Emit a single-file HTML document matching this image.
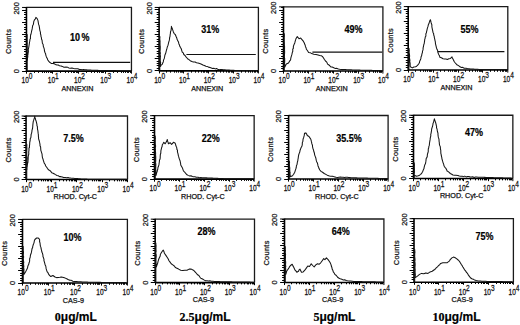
<!DOCTYPE html>
<html><head><meta charset="utf-8"><style>
html,body{margin:0;padding:0;background:#fff;}
body{width:520px;height:325px;overflow:hidden;}
svg{display:block;}
.fr{fill:none;stroke:#1a1a1a;stroke-width:1.3;}
.xa{fill:none;stroke:#000;stroke-width:1.6;}
.ya{fill:none;stroke:#000;stroke-width:1.6;}
.tk{fill:none;stroke:#000;stroke-width:1;}
.gt{fill:none;stroke:#111;stroke-width:1.2;}
.cv{fill:none;stroke:#141414;stroke-width:1.05;stroke-linejoin:round;}
text{font-family:"Liberation Sans",sans-serif;fill:#111;stroke:#111;stroke-width:0.25px;}
.yl{font-size:7.4px;}
.xl{font-size:8.2px;}
.xt{font-size:7.2px;}
.pc{font-size:10px;font-weight:bold;fill:#000;stroke:#000;stroke-width:0.2px;}
.bl{font-size:12px;font-weight:bold;fill:#000;stroke:#000;stroke-width:0.2px;}
.bn{font-family:"Liberation Serif",serif;}
</style></head><body>
<svg width="520" height="325" viewBox="0 0 520 325">
<path d="M26.45 7.45H131.45V71.1" class="fr"/>
<path d="M26.45 71.1H131.45" class="xa"/>
<path d="M26.45 6.95V71.6" class="ya"/>
<path d="M22.05 71.5H26.45M24.05 68.5H26.45M24.05 66.5H26.45M24.05 63.5H26.45M24.05 61.5H26.45M22.05 58.5H26.45M24.05 56.5H26.45M24.05 54.5H26.45M24.05 51.5H26.45M24.05 49.5H26.45M22.05 46.5H26.45M24.05 44.5H26.45M24.05 41.5H26.45M24.05 39.5H26.45M24.05 36.5H26.45M22.05 34.5H26.45M24.05 32.5H26.45M24.05 29.5H26.45M24.05 27.5H26.45M24.05 24.5H26.45M22.05 22.5H26.45M24.05 19.5H26.45M24.05 17.5H26.45M24.05 14.5H26.45M24.05 12.5H26.45M22.05 10.5H26.45M24.05 7.5H26.45M22.05 7.45H26.45" class="tk"/>
<path d="M26.5 71.1V73.7M34.5 71.1V72.9M38.5 71.1V72.9M42.5 71.1V72.9M44.5 71.1V72.9M46.5 71.1V72.9M48.5 71.1V72.9M50.5 71.1V72.9M51.5 71.1V72.9M52.5 71.1V73.7M60.5 71.1V72.9M65.5 71.1V72.9M68.5 71.1V72.9M71.5 71.1V72.9M73.5 71.1V72.9M74.5 71.1V72.9M76.5 71.1V72.9M77.5 71.1V72.9M78.5 71.1V73.7M86.5 71.1V72.9M91.5 71.1V72.9M94.5 71.1V72.9M97.5 71.1V72.9M99.5 71.1V72.9M101.5 71.1V72.9M102.5 71.1V72.9M103.5 71.1V72.9M105.5 71.1V73.7M113.5 71.1V72.9M117.5 71.1V72.9M121.5 71.1V72.9M123.5 71.1V72.9M125.5 71.1V72.9M127.5 71.1V72.9M128.5 71.1V72.9M130.5 71.1V72.9M131.45 71.1V73.7" class="tk"/>
<text class="yl" transform="translate(19.05 8.35) rotate(-90)" text-anchor="middle">200</text>
<text class="yl" transform="translate(19.05 71.1) rotate(-90)" text-anchor="middle">0</text>
<text class="yl" transform="translate(10.95 41.48) rotate(-90)" text-anchor="middle" style="letter-spacing:0.3px">Counts</text>
<text class="xl" transform="translate(21.55 83.4) scale(0.8 1)">10</text><text class="xl" transform="translate(28.85 79.4) scale(0.8 1)">0</text>
<text class="xl" transform="translate(47.8 83.4) scale(0.8 1)">10</text><text class="xl" transform="translate(55.1 79.4) scale(0.8 1)">1</text>
<text class="xl" transform="translate(74.05 83.4) scale(0.8 1)">10</text><text class="xl" transform="translate(81.35 79.4) scale(0.8 1)">2</text>
<text class="xl" transform="translate(100.3 83.4) scale(0.8 1)">10</text><text class="xl" transform="translate(107.6 79.4) scale(0.8 1)">3</text>
<text class="xl" transform="translate(126.55 83.4) scale(0.8 1)">10</text><text class="xl" transform="translate(133.85 79.4) scale(0.8 1)">4</text>
<text class="xt" x="77.45" y="90.8" text-anchor="middle">ANNEXIN</text>
<path d="M53 62.3H130.2" class="gt"/>
<path d="M27.15 71.1 L27.15 34.4 L27.17 35.7 L27.13 37.46 L27.18 38.43 L27.15 39.48 L27.27 41.22 L27.05 42.07 L27.27 43.41 L26.92 45.29 L27.34 46.89 L27.18 47.94 L26.9 48.83 L26.92 50.51 L27 51.54 L27.1 52.74 L27.27 54.45 L27.17 55.86 L27.18 57.18 L27.01 58.48 L27.33 60.31 L27.1 61.2 L27.43 60.07 L27.45 58.17 L27.8 56.9 L27.72 55.31 L27.99 54.34 L28.1 53.01 L28.42 51.71 L28.25 49.45 L28.5 48.5 L28.75 47.37 L28.97 45.93 L29.34 43.62 L29.44 42.75 L29.8 41 L29.98 39.23 L30.43 38.62 L30.46 36.46 L30.63 35.04 L30.94 34.27 L31.32 32.65 L31.6 31.2 L32.01 29.55 L32.28 28.13 L32.49 26.74 L32.72 25.46 L33.27 24.77 L33.62 22.8 L33.75 21.6 L34.42 19.94 L35.25 19.12 L35.9 17.4 L37.17 18.64 L38 20.6 L38.15 21.67 L38.45 23.5 L38.6 24.39 L39.09 25.53 L39.36 26.99 L39.55 28.43 L39.83 30.29 L40.1 31.2 L40.5 32.57 L40.41 33.51 L40.94 35.47 L40.89 36.17 L41.46 37.92 L41.5 39 L42.06 40.19 L42.27 42.26 L42.4 43.31 L43.15 44.42 L43.3 46.3 L43.82 47.61 L44.3 49.18 L44.48 51.04 L45 52.5 L45.57 53.67 L45.81 55.05 L46.4 56.9 L47.26 58.5 L47.8 60 L48.8 61.35 L50 62.5 L51.27 63.43 L52.8 63.6 L54.1 63.63 L55.4 64.48 L57 65 L58.27 65.06 L59.48 65.76 L61.15 65.93 L62.3 66.4 L63.65 67.13 L64.9 67.17 L65.93 66.98 L67.6 67.17 L68.7 67.9 L70.48 68.31 L71.91 67.92 L73.53 68.56 L75 68.8 L76.64 68.77 L77.85 68.68 L79.43 69.41 L80.76 69.55 L82.27 69.73 L83.5 69.6 L84.9 69.7 L86.3 69.8 L87.7 69.9 L89.1 70 L90.5 70.1 L91.9 70.2 L93.31 70.24 L94.72 70.29 L96.13 70.33 L97.54 70.38 L98.96 70.42 L100.37 70.47 L101.78 70.51 L103.19 70.56 L104.6 70.6 L105.96 70.61 L107.32 70.61 L108.68 70.62 L110.04 70.62 L111.4 70.63 L112.76 70.63 L114.12 70.64 L115.48 70.64 L116.84 70.65 L118.21 70.65 L119.57 70.66 L120.93 70.66 L122.29 70.67 L123.65 70.67 L125.01 70.68 L126.37 70.68 L127.73 70.69 L129.09 70.69 L130.45 70.7" class="cv"/>
<text class="pc" style="word-spacing:-1.3px" transform="translate(70.1 40.7) scale(0.9 1)">10 %</text>
<path d="M159.1 7.45H258.4V70.85" class="fr"/>
<path d="M159.1 70.85H258.4" class="xa"/>
<path d="M159.1 6.95V71.35" class="ya"/>
<path d="M154.7 70.5H159.1M156.7 68.5H159.1M156.7 65.5H159.1M156.7 63.5H159.1M156.7 61.5H159.1M154.7 58.5H159.1M156.7 56.5H159.1M156.7 53.5H159.1M156.7 51.5H159.1M156.7 48.5H159.1M154.7 46.5H159.1M156.7 44.5H159.1M156.7 41.5H159.1M156.7 39.5H159.1M156.7 36.5H159.1M154.7 34.5H159.1M156.7 31.5H159.1M156.7 29.5H159.1M156.7 26.5H159.1M156.7 24.5H159.1M154.7 22.5H159.1M156.7 19.5H159.1M156.7 17.5H159.1M156.7 14.5H159.1M156.7 12.5H159.1M154.7 9.5H159.1M156.7 7.5H159.1M154.7 7.45H159.1" class="tk"/>
<path d="M159.5 70.85V73.45M166.5 70.85V72.65M170.5 70.85V72.65M174.5 70.85V72.65M176.5 70.85V72.65M178.5 70.85V72.65M180.5 70.85V72.65M181.5 70.85V72.65M182.5 70.85V72.65M183.5 70.85V73.45M191.5 70.85V72.65M195.5 70.85V72.65M198.5 70.85V72.65M201.5 70.85V72.65M203.5 70.85V72.65M204.5 70.85V72.65M206.5 70.85V72.65M207.5 70.85V72.65M208.5 70.85V73.45M216.5 70.85V72.65M220.5 70.85V72.65M223.5 70.85V72.65M226.5 70.85V72.65M228.5 70.85V72.65M229.5 70.85V72.65M231.5 70.85V72.65M232.5 70.85V72.65M233.5 70.85V73.45M241.5 70.85V72.65M245.5 70.85V72.65M248.5 70.85V72.65M250.5 70.85V72.65M252.5 70.85V72.65M254.5 70.85V72.65M255.5 70.85V72.65M257.5 70.85V72.65M258.4 70.85V73.45" class="tk"/>
<text class="yl" transform="translate(151.7 8.35) rotate(-90)" text-anchor="middle">200</text>
<text class="yl" transform="translate(151.7 70.85) rotate(-90)" text-anchor="middle">0</text>
<text class="yl" transform="translate(143.6 41.35) rotate(-90)" text-anchor="middle" style="letter-spacing:0.3px">Counts</text>
<text class="xl" transform="translate(154.2 83.15) scale(0.8 1)">10</text><text class="xl" transform="translate(161.5 79.15) scale(0.8 1)">0</text>
<text class="xl" transform="translate(179.02 83.15) scale(0.8 1)">10</text><text class="xl" transform="translate(186.32 79.15) scale(0.8 1)">1</text>
<text class="xl" transform="translate(203.85 83.15) scale(0.8 1)">10</text><text class="xl" transform="translate(211.15 79.15) scale(0.8 1)">2</text>
<text class="xl" transform="translate(228.67 83.15) scale(0.8 1)">10</text><text class="xl" transform="translate(235.97 79.15) scale(0.8 1)">3</text>
<text class="xl" transform="translate(253.5 83.15) scale(0.8 1)">10</text><text class="xl" transform="translate(260.8 79.15) scale(0.8 1)">4</text>
<text class="xt" x="207.25" y="90.55" text-anchor="middle">ANNEXIN</text>
<path d="M186.4 54.5H255.8" class="gt"/>
<path d="M159.8 70.85 L159.8 36.2 L159.91 37.49 L159.71 38.98 L159.85 39.7 L160.08 41.25 L160.02 42.94 L160.08 44.13 L160.02 45.07 L160.26 46.4 L160.26 47.62 L160.23 48.95 L160.14 50.5 L160 52.26 L160.44 52.87 L160.1 54.59 L160.52 56.33 L160.32 56.86 L160.31 58.19 L160.27 59.94 L160.26 61.32 L160.64 62.16 L160.49 63.68 L160.55 65.17 L160.6 66.4 L161.09 65.16 L162.21 64.34 L162.7 63 L163.25 61.93 L163.59 59.87 L164.2 58.67 L164.6 57 L164.86 55.25 L165.37 54.08 L165.74 53.08 L166.27 50.98 L166.5 50 L166.96 48.44 L167.37 46.75 L167.97 45.4 L168.3 44 L168.72 42.11 L169.19 40.64 L169.5 39.4 L169.62 37.51 L170.01 36.31 L170.16 34.57 L170.4 33.5 L170.5 31.8 L171.01 30.6 L171.21 29.16 L171.39 27.44 L171.4 26.3 L171.74 27.53 L172.54 29.22 L172.72 29.91 L173.3 31.7 L173.9 33.09 L174.43 33.77 L175.38 34.74 L176 36.3 L176.86 38.27 L177.05 39.37 L177.9 40.9 L178.5 42.09 L178.91 43.9 L179.34 44.71 L179.8 46.3 L180.49 47.61 L181.27 48.75 L181.7 50.3 L182.25 52.05 L183.27 52.91 L183.8 54.5 L185.07 55.47 L186.02 56.85 L187 58 L187.94 59.08 L189.02 59.61 L190.2 60.7 L191.89 61.51 L193.4 62 L195.12 62.07 L196.5 62.8 L197.98 63.08 L199.7 63.5 L201.52 64.19 L202.9 65 L204.36 65.52 L205.91 66.31 L207.1 66.4 L208.46 67.13 L210.08 67.48 L211.3 67.9 L212.62 68.42 L213.8 68.28 L215.17 68.89 L216.51 68.51 L217.7 69.2 L219.25 69.7 L220.53 69.47 L221.95 69.6 L223.37 69.73 L224.78 69.87 L226.2 70 L227.67 70.07 L229.13 70.13 L230.6 70.2 L232.07 70.27 L233.53 70.33 L235 70.4 L236.32 70.4 L237.64 70.41 L238.95 70.41 L240.27 70.41 L241.59 70.41 L242.91 70.42 L244.22 70.42 L245.54 70.42 L246.86 70.43 L248.18 70.43 L249.49 70.43 L250.81 70.44 L252.13 70.44 L253.45 70.44 L254.76 70.44 L256.08 70.45 L257.4 70.45" class="cv"/>
<text class="pc" transform="translate(201.3 33.1) scale(0.9 1)">31%</text>
<path d="M283.5 6.85H382.9V71" class="fr"/>
<path d="M283.5 71H382.9" class="xa"/>
<path d="M283.5 6.35V71.5" class="ya"/>
<path d="M279.1 71.5H283.5M281.1 68.5H283.5M281.1 66.5H283.5M281.1 63.5H283.5M281.1 61.5H283.5M279.1 58.5H283.5M281.1 56.5H283.5M281.1 53.5H283.5M281.1 51.5H283.5M281.1 49.5H283.5M279.1 46.5H283.5M281.1 44.5H283.5M281.1 41.5H283.5M281.1 39.5H283.5M281.1 36.5H283.5M279.1 34.5H283.5M281.1 31.5H283.5M281.1 29.5H283.5M281.1 27.5H283.5M281.1 24.5H283.5M279.1 22.5H283.5M281.1 19.5H283.5M281.1 17.5H283.5M281.1 14.5H283.5M281.1 12.5H283.5M279.1 10.5H283.5M281.1 7.5H283.5M279.1 6.85H283.5" class="tk"/>
<path d="M283.5 71V73.6M290.5 71V72.8M295.5 71V72.8M298.5 71V72.8M300.5 71V72.8M302.5 71V72.8M304.5 71V72.8M305.5 71V72.8M307.5 71V72.8M308.5 71V73.6M315.5 71V72.8M320.5 71V72.8M323.5 71V72.8M325.5 71V72.8M327.5 71V72.8M329.5 71V72.8M330.5 71V72.8M332.5 71V72.8M333.5 71V73.6M340.5 71V72.8M345.5 71V72.8M348.5 71V72.8M350.5 71V72.8M352.5 71V72.8M354.5 71V72.8M355.5 71V72.8M356.5 71V72.8M358.5 71V73.6M365.5 71V72.8M369.5 71V72.8M373.5 71V72.8M375.5 71V72.8M377.5 71V72.8M379.5 71V72.8M380.5 71V72.8M381.5 71V72.8M382.9 71V73.6" class="tk"/>
<text class="yl" transform="translate(276.1 7.75) rotate(-90)" text-anchor="middle">200</text>
<text class="yl" transform="translate(276.1 71) rotate(-90)" text-anchor="middle">0</text>
<text class="yl" transform="translate(268 41.12) rotate(-90)" text-anchor="middle" style="letter-spacing:0.3px">Counts</text>
<text class="xl" transform="translate(278.6 83.3) scale(0.8 1)">10</text><text class="xl" transform="translate(285.9 79.3) scale(0.8 1)">0</text>
<text class="xl" transform="translate(303.45 83.3) scale(0.8 1)">10</text><text class="xl" transform="translate(310.75 79.3) scale(0.8 1)">1</text>
<text class="xl" transform="translate(328.3 83.3) scale(0.8 1)">10</text><text class="xl" transform="translate(335.6 79.3) scale(0.8 1)">2</text>
<text class="xl" transform="translate(353.15 83.3) scale(0.8 1)">10</text><text class="xl" transform="translate(360.45 79.3) scale(0.8 1)">3</text>
<text class="xl" transform="translate(378 83.3) scale(0.8 1)">10</text><text class="xl" transform="translate(385.3 79.3) scale(0.8 1)">4</text>
<text class="xt" x="331.7" y="90.7" text-anchor="middle">ANNEXIN</text>
<path d="M312.4 52.1H382.2" class="gt"/>
<path d="M284.2 71 L284.2 33.5 L284.3 34.58 L284.4 36.27 L284.14 37.12 L284.15 38.38 L284.13 40.21 L284.19 41.33 L284.3 42.42 L284.4 44.2 L284.27 44.76 L284.56 46.18 L284.55 48.08 L284.54 49.39 L284.58 50.8 L284.63 51.48 L284.6 52.99 L284.48 54.36 L284.5 55.48 L284.37 56.73 L284.7 58.49 L284.67 59.94 L284.72 60.85 L284.7 61.77 L284.5 63.35 L284.67 64.43 L284.66 65.78 L284.7 67.3 L285.45 65.79 L286.3 64.1 L288.5 63.1 L289.55 61.17 L290.6 59.9 L290.82 58.18 L291.22 56.67 L291.69 55.08 L291.91 54.39 L292.3 52.5 L292.79 51.22 L292.74 49.13 L293.35 48.34 L293.35 46.71 L293.8 45.1 L294.39 43.76 L294.78 42.93 L295.22 41.05 L295.58 39.95 L295.9 38.8 L296.81 37.37 L297.3 36.6 L298.25 37.79 L299 38.8 L300.7 38.1 L302.2 39.8 L303.3 41.14 L304.3 43 L304.76 44.33 L305.24 45.39 L305.47 46.64 L306.06 47.74 L306.4 49.3 L307.38 50.55 L308.6 52.5 L310.21 52.66 L311.7 53.6 L313.8 54.2 L316 54.6 L318.1 55 L319.72 55.4 L321.3 55.7 L322.32 56.33 L323.4 57.8 L324.27 59.26 L325.5 61 L326.77 62.1 L327.6 64.1 L328.58 64.69 L329.78 65.76 L330.8 66.9 L332.19 67.02 L333.75 67.78 L335 68.4 L336.5 68.21 L338.36 68.9 L339.71 69.17 L341.3 69.4 L342.63 69.62 L344.13 69.53 L345.55 69.6 L346.97 69.67 L348.38 69.73 L349.8 69.8 L351.22 69.85 L352.63 69.9 L354.05 69.95 L355.47 70 L356.88 70.05 L358.3 70.1 L359.61 70.13 L360.92 70.16 L362.23 70.18 L363.54 70.21 L364.86 70.24 L366.17 70.27 L367.48 70.29 L368.79 70.32 L370.1 70.35 L371.41 70.38 L372.72 70.41 L374.03 70.43 L375.34 70.46 L376.66 70.49 L377.97 70.52 L379.28 70.54 L380.59 70.57 L381.9 70.6" class="cv"/>
<text class="pc" transform="translate(344.6 33) scale(0.9 1)">49%</text>
<path d="M408.2 6.6H507.8V70" class="fr"/>
<path d="M408.2 70H507.8" class="xa"/>
<path d="M408.2 6.1V70.5" class="ya"/>
<path d="M403.8 70.5H408.2M405.8 67.5H408.2M405.8 65.5H408.2M405.8 62.5H408.2M405.8 60.5H408.2M403.8 57.5H408.2M405.8 55.5H408.2M405.8 52.5H408.2M405.8 50.5H408.2M405.8 48.5H408.2M403.8 45.5H408.2M405.8 43.5H408.2M405.8 40.5H408.2M405.8 38.5H408.2M405.8 35.5H408.2M403.8 33.5H408.2M405.8 30.5H408.2M405.8 28.5H408.2M405.8 26.5H408.2M405.8 23.5H408.2M403.8 21.5H408.2M405.8 18.5H408.2M405.8 16.5H408.2M405.8 13.5H408.2M405.8 11.5H408.2M403.8 9.5H408.2M405.8 6.5H408.2M403.8 6.6H408.2" class="tk"/>
<path d="M408.5 70V72.6M415.5 70V71.8M420.5 70V71.8M423.5 70V71.8M425.5 70V71.8M427.5 70V71.8M429.5 70V71.8M430.5 70V71.8M431.5 70V71.8M433.5 70V72.6M440.5 70V71.8M444.5 70V71.8M448.5 70V71.8M450.5 70V71.8M452.5 70V71.8M454.5 70V71.8M455.5 70V71.8M456.5 70V71.8M458.5 70V72.6M465.5 70V71.8M469.5 70V71.8M472.5 70V71.8M475.5 70V71.8M477.5 70V71.8M479.5 70V71.8M480.5 70V71.8M481.5 70V71.8M482.5 70V72.6M490.5 70V71.8M494.5 70V71.8M497.5 70V71.8M500.5 70V71.8M502.5 70V71.8M503.5 70V71.8M505.5 70V71.8M506.5 70V71.8M507.8 70V72.6" class="tk"/>
<text class="yl" transform="translate(400.8 7.5) rotate(-90)" text-anchor="middle">200</text>
<text class="yl" transform="translate(400.8 70) rotate(-90)" text-anchor="middle">0</text>
<text class="yl" transform="translate(392.7 40.5) rotate(-90)" text-anchor="middle" style="letter-spacing:0.3px">Counts</text>
<text class="xl" transform="translate(403.3 82.3) scale(0.8 1)">10</text><text class="xl" transform="translate(410.6 78.3) scale(0.8 1)">0</text>
<text class="xl" transform="translate(428.2 82.3) scale(0.8 1)">10</text><text class="xl" transform="translate(435.5 78.3) scale(0.8 1)">1</text>
<text class="xl" transform="translate(453.1 82.3) scale(0.8 1)">10</text><text class="xl" transform="translate(460.4 78.3) scale(0.8 1)">2</text>
<text class="xl" transform="translate(478 82.3) scale(0.8 1)">10</text><text class="xl" transform="translate(485.3 78.3) scale(0.8 1)">3</text>
<text class="xl" transform="translate(502.9 82.3) scale(0.8 1)">10</text><text class="xl" transform="translate(510.2 78.3) scale(0.8 1)">4</text>
<text class="xt" x="456.5" y="89.7" text-anchor="middle">ANNEXIN</text>
<path d="M437.8 51.6H504.4" class="gt"/>
<path d="M408.9 70 L408.9 48.2 L409.09 49.17 L409.3 50.99 L409.09 51.98 L409.37 53.72 L409.48 54.67 L409.62 56.08 L409.48 57.16 L409.64 59.19 L409.94 59.94 L409.74 61.6 L410.07 62.86 L410.17 63.84 L410.13 65.13 L410.3 66.8 L412.4 67.9 L413.87 66.97 L415.6 66.8 L416.62 66.2 L417.71 65.17 L418.8 63.7 L419.49 62.47 L419.68 61.22 L420.44 59.81 L420.9 58.4 L421.07 56.7 L421.61 55.9 L421.93 53.87 L422.43 52.48 L422.47 51.32 L423 49.9 L423.05 48.9 L423.25 47.12 L423.53 46.25 L423.75 44.77 L424.25 43.44 L424.38 42.2 L424.61 40.86 L424.68 39.67 L425.1 38.3 L425.28 36.92 L425.9 35.91 L425.84 33.84 L426.33 33.05 L426.69 31.08 L426.87 30.56 L427.2 28.8 L427.65 27.38 L427.93 26.64 L428.32 24.78 L428.87 23.8 L429.3 22.4 L429.8 20.83 L430.4 19.7 L430.65 20.55 L431.11 22.67 L431.4 23.5 L431.87 24.88 L431.84 26.52 L432.07 27.81 L432.5 29.8 L432.72 30.81 L433.07 32.7 L433.57 33.41 L433.77 35.3 L434.2 36.2 L434.39 37.84 L434.74 39.06 L435.07 40.8 L435.35 41.81 L435.4 43.08 L435.7 44.6 L436.14 46.49 L436.46 47.81 L437.01 49.41 L437.58 50.29 L437.8 52 L438.25 53.3 L438.67 54.44 L439.46 55.71 L439.9 57.3 L441.39 57.73 L443.1 58.8 L444.52 58.95 L446.03 59.09 L447.3 59.4 L448.84 58.68 L450.5 58.4 L452 56.9 L452.4 58.03 L452.97 59.05 L453.7 60.5 L454.32 61.75 L455.12 62.75 L456.1 63.78 L456.8 64.7 L458.59 65.62 L460 66.8 L461.43 67.44 L462.76 67.39 L464.2 68.3 L465.79 68.24 L467.4 68.6 L469 68.75 L470.6 68.9 L472 68.98 L473.4 69.07 L474.8 69.15 L476.2 69.23 L477.6 69.32 L479 69.4 L480.32 69.41 L481.65 69.42 L482.97 69.43 L484.3 69.44 L485.62 69.45 L486.94 69.46 L488.27 69.47 L489.59 69.48 L490.91 69.49 L492.24 69.5 L493.56 69.5 L494.89 69.51 L496.21 69.52 L497.53 69.53 L498.86 69.54 L500.18 69.55 L501.5 69.56 L502.83 69.57 L504.15 69.58 L505.48 69.59 L506.8 69.6" class="cv"/>
<text class="pc" transform="translate(460.4 32.7) scale(0.9 1)">55%</text>
<path d="M26.05 116H127.5V179.55" class="fr"/>
<path d="M26.05 179.55H127.5" class="xa"/>
<path d="M26.05 115.5V180.05" class="ya"/>
<path d="M21.65 179.5H26.05M23.65 177.5H26.05M23.65 174.5H26.05M23.65 172.5H26.05M23.65 169.5H26.05M21.65 167.5H26.05M23.65 164.5H26.05M23.65 162.5H26.05M23.65 160.5H26.05M23.65 157.5H26.05M21.65 155.5H26.05M23.65 152.5H26.05M23.65 150.5H26.05M23.65 147.5H26.05M23.65 145.5H26.05M21.65 142.5H26.05M23.65 140.5H26.05M23.65 138.5H26.05M23.65 135.5H26.05M23.65 133.5H26.05M21.65 130.5H26.05M23.65 128.5H26.05M23.65 125.5H26.05M23.65 123.5H26.05M23.65 120.5H26.05M21.65 118.5H26.05M23.65 116.5H26.05M21.65 116H26.05" class="tk"/>
<path d="M26.5 179.55V182.15M33.5 179.55V181.35M38.5 179.55V181.35M41.5 179.55V181.35M43.5 179.55V181.35M45.5 179.55V181.35M47.5 179.55V181.35M48.5 179.55V181.35M50.5 179.55V181.35M51.5 179.55V182.15M59.5 179.55V181.35M63.5 179.55V181.35M66.5 179.55V181.35M69.5 179.55V181.35M71.5 179.55V181.35M72.5 179.55V181.35M74.5 179.55V181.35M75.5 179.55V181.35M76.5 179.55V182.15M84.5 179.55V181.35M88.5 179.55V181.35M92.5 179.55V181.35M94.5 179.55V181.35M96.5 179.55V181.35M98.5 179.55V181.35M99.5 179.55V181.35M100.5 179.55V181.35M102.5 179.55V182.15M109.5 179.55V181.35M114.5 179.55V181.35M117.5 179.55V181.35M119.5 179.55V181.35M121.5 179.55V181.35M123.5 179.55V181.35M125.5 179.55V181.35M126.5 179.55V181.35M127.5 179.55V182.15" class="tk"/>
<text class="yl" transform="translate(18.65 116.9) rotate(-90)" text-anchor="middle">200</text>
<text class="yl" transform="translate(18.65 179.55) rotate(-90)" text-anchor="middle">0</text>
<text class="yl" transform="translate(10.55 149.97) rotate(-90)" text-anchor="middle" style="letter-spacing:0.3px">Counts</text>
<text class="xl" transform="translate(21.15 191.85) scale(0.8 1)">10</text><text class="xl" transform="translate(28.45 187.85) scale(0.8 1)">0</text>
<text class="xl" transform="translate(46.51 191.85) scale(0.8 1)">10</text><text class="xl" transform="translate(53.81 187.85) scale(0.8 1)">1</text>
<text class="xl" transform="translate(71.88 191.85) scale(0.8 1)">10</text><text class="xl" transform="translate(79.18 187.85) scale(0.8 1)">2</text>
<text class="xl" transform="translate(97.24 191.85) scale(0.8 1)">10</text><text class="xl" transform="translate(104.54 187.85) scale(0.8 1)">3</text>
<text class="xl" transform="translate(122.6 191.85) scale(0.8 1)">10</text><text class="xl" transform="translate(129.9 187.85) scale(0.8 1)">4</text>
<text class="xt" x="75.28" y="199.25" text-anchor="middle">RHOD. Cyt-C</text>
<path d="M26.75 179.55 L26.75 144 L26.85 145.05 L26.77 146.82 L26.92 147.79 L26.81 149.67 L26.7 150.74 L26.77 151.64 L26.65 153.51 L26.73 155.04 L26.66 155.89 L26.99 157.92 L26.95 159.16 L26.83 159.75 L26.75 161.51 L26.88 163.27 L27.09 163.9 L27.15 165.22 L27 166.86 L26.98 168.11 L27 169.6 L26.94 167.74 L27.18 166.78 L27.32 165.13 L27.6 163.3 L27.93 162.34 L28.02 160.76 L28.15 159.22 L28.19 157.43 L28.22 156.68 L28.5 155 L28.8 154.08 L28.7 152.32 L28.84 151.06 L28.97 150.25 L28.97 148.07 L29.5 147.4 L29.41 145.9 L29.65 144.65 L29.72 143.05 L29.8 142 L30.16 140.58 L30.25 138.78 L30.89 137.46 L31.04 136 L31.12 134.49 L31.6 133.2 L31.93 131.48 L31.92 130.8 L32.24 129.39 L32.56 128.26 L32.76 126.49 L32.77 125.67 L32.91 124.27 L33.1 122.6 L33.33 121.21 L33.63 120.38 L34.26 118.37 L34.45 117.73 L34.8 116.2 L34.94 117.78 L35.39 118.54 L35.67 119.97 L36.09 120.93 L36.5 122.6 L36.93 124.3 L36.92 125.51 L37.35 126.41 L37.46 127.99 L37.44 128.89 L37.92 130.96 L38 132 L38.21 133.68 L38.37 134.6 L38.41 136.31 L38.57 137.36 L38.61 138.91 L39 140 L39.49 141.58 L39.61 142.4 L40.01 144.38 L40.02 145.74 L40.62 147 L40.7 148.5 L40.84 150.37 L41.12 151.14 L41.58 152.57 L42.07 154.18 L42.2 156 L42.45 157.6 L42.96 158.95 L43.33 160.37 L43.74 161.54 L44.3 163.3 L45.19 164.52 L45.7 166 L46.87 167.46 L47.5 168.6 L48.68 169.9 L49.58 170.26 L50.77 171.36 L51.7 172.8 L53.12 173.18 L54.44 173.93 L55.47 174.66 L57 175.5 L58.24 175.77 L59.56 176.61 L61 176.63 L62.3 177 L63.54 177.59 L65.14 177.46 L66.76 177.76 L68.06 177.56 L69.41 177.94 L70.8 178.1 L72.11 178.2 L73.42 178.3 L74.74 178.4 L76.05 178.5 L77.36 178.6 L78.67 178.7 L79.99 178.8 L81.3 178.9 L82.62 178.95 L83.95 179 L85.28 179.05 L86.6 179.1 L87.92 179.15 L89.25 179.2 L90.58 179.25 L91.9 179.3 L93.23 179.29 L94.56 179.29 L95.89 179.28 L97.22 179.28 L98.55 179.27 L99.88 179.27 L101.22 179.26 L102.55 179.25 L103.88 179.25 L105.21 179.24 L106.54 179.24 L107.87 179.23 L109.2 179.23 L110.53 179.22 L111.86 179.21 L113.19 179.21 L114.52 179.2 L115.85 179.2 L117.18 179.19 L118.52 179.18 L119.85 179.18 L121.18 179.17 L122.51 179.17 L123.84 179.16 L125.17 179.16 L126.5 179.15" class="cv"/>
<text class="pc" transform="translate(63.3 142.3) scale(0.9 1)">7.5%</text>
<path d="M154.5 115.7H254.15V179.1" class="fr"/>
<path d="M154.5 179.1H254.15" class="xa"/>
<path d="M154.5 115.2V179.6" class="ya"/>
<path d="M150.1 179.5H154.5M152.1 176.5H154.5M152.1 174.5H154.5M152.1 171.5H154.5M152.1 169.5H154.5M150.1 166.5H154.5M152.1 164.5H154.5M152.1 162.5H154.5M152.1 159.5H154.5M152.1 157.5H154.5M150.1 154.5H154.5M152.1 152.5H154.5M152.1 149.5H154.5M152.1 147.5H154.5M152.1 144.5H154.5M150.1 142.5H154.5M152.1 140.5H154.5M152.1 137.5H154.5M152.1 135.5H154.5M152.1 132.5H154.5M150.1 130.5H154.5M152.1 127.5H154.5M152.1 125.5H154.5M152.1 122.5H154.5M152.1 120.5H154.5M150.1 118.5H154.5M152.1 115.5H154.5M150.1 115.7H154.5" class="tk"/>
<path d="M154.5 179.1V181.7M161.5 179.1V180.9M166.5 179.1V180.9M169.5 179.1V180.9M171.5 179.1V180.9M173.5 179.1V180.9M175.5 179.1V180.9M176.5 179.1V180.9M178.5 179.1V180.9M179.5 179.1V181.7M186.5 179.1V180.9M191.5 179.1V180.9M194.5 179.1V180.9M196.5 179.1V180.9M198.5 179.1V180.9M200.5 179.1V180.9M201.5 179.1V180.9M203.5 179.1V180.9M204.5 179.1V181.7M211.5 179.1V180.9M216.5 179.1V180.9M219.5 179.1V180.9M221.5 179.1V180.9M223.5 179.1V180.9M225.5 179.1V180.9M226.5 179.1V180.9M228.5 179.1V180.9M229.5 179.1V181.7M236.5 179.1V180.9M241.5 179.1V180.9M244.5 179.1V180.9M246.5 179.1V180.9M248.5 179.1V180.9M250.5 179.1V180.9M251.5 179.1V180.9M253.5 179.1V180.9M254.15 179.1V181.7" class="tk"/>
<text class="yl" transform="translate(147.1 116.6) rotate(-90)" text-anchor="middle">200</text>
<text class="yl" transform="translate(147.1 179.1) rotate(-90)" text-anchor="middle">0</text>
<text class="yl" transform="translate(139 149.6) rotate(-90)" text-anchor="middle" style="letter-spacing:0.3px">Counts</text>
<text class="xl" transform="translate(149.6 191.4) scale(0.8 1)">10</text><text class="xl" transform="translate(156.9 187.4) scale(0.8 1)">0</text>
<text class="xl" transform="translate(174.51 191.4) scale(0.8 1)">10</text><text class="xl" transform="translate(181.81 187.4) scale(0.8 1)">1</text>
<text class="xl" transform="translate(199.42 191.4) scale(0.8 1)">10</text><text class="xl" transform="translate(206.72 187.4) scale(0.8 1)">2</text>
<text class="xl" transform="translate(224.34 191.4) scale(0.8 1)">10</text><text class="xl" transform="translate(231.64 187.4) scale(0.8 1)">3</text>
<text class="xl" transform="translate(249.25 191.4) scale(0.8 1)">10</text><text class="xl" transform="translate(256.55 187.4) scale(0.8 1)">4</text>
<text class="xt" x="202.82" y="198.8" text-anchor="middle">RHOD. Cyt-C</text>
<path d="M155.2 179.1 L155.2 136 L155.06 137.73 L155.47 138.2 L155.1 139.67 L155.22 141.4 L155.2 142.93 L155.26 144.31 L155.56 145.31 L155.58 146.7 L155.21 148.04 L155.47 149.51 L155.32 150.31 L155.52 152.11 L155.63 153.51 L155.56 154.85 L155.6 155.93 L155.78 156.85 L155.72 158.21 L155.69 160.11 L155.79 160.69 L155.52 162.48 L155.7 163.24 L155.9 164.55 L155.74 166.29 L155.83 167.52 L155.7 169.29 L155.84 170.12 L155.87 171.37 L155.82 172.91 L155.89 174.34 L155.9 175.5 L156.5 173.8 L156.62 172.72 L157.22 171.44 L157.4 170.2 L157.78 169.28 L157.97 167.46 L158.38 166.58 L158.9 164.9 L159.09 163.46 L159.36 161.79 L159.47 160.18 L160.07 159.01 L160.2 157.5 L160.23 156.15 L160.32 154.71 L160.83 152.98 L160.82 151.96 L161 150.1 L161.32 149.09 L161.69 147.47 L162.08 146.57 L162.3 144.8 L163.15 143.53 L163.8 142.3 L165.2 143.8 L166.5 141.6 L167.3 139.5 L167.6 141.06 L168.18 142.62 L168.4 143.8 L170.1 142.7 L171.6 144.4 L172.65 143.45 L173.3 142.3 L175 143.1 L175.47 143.93 L175.86 145.75 L176.4 146.9 L176.79 147.88 L176.9 149.4 L177.51 150.33 L177.43 151.89 L177.9 153.3 L178.13 154.3 L178.44 156.15 L178.74 156.88 L179.13 158.31 L179.6 159.6 L180.05 160.74 L180.43 162.54 L180.56 163.02 L180.75 165.03 L181.3 166 L181.92 167.06 L182.66 168.54 L183.16 170.17 L183.8 171.3 L184.75 172.24 L185.74 173.42 L187 174.8 L188.17 175.37 L189.72 176 L190.97 175.68 L192.3 176.5 L193.51 176.78 L194.92 176.85 L196.33 177.29 L198.19 177.35 L199.26 177.73 L200.8 177.6 L202.21 177.67 L203.62 177.73 L205.03 177.8 L206.44 177.87 L207.86 177.93 L209.27 178 L210.68 178.07 L212.09 178.13 L213.5 178.2 L214.81 178.26 L216.12 178.32 L217.44 178.39 L218.75 178.45 L220.06 178.51 L221.38 178.57 L222.69 178.64 L224 178.7 L225.32 178.7 L226.65 178.7 L227.97 178.7 L229.3 178.7 L230.62 178.7 L231.95 178.7 L233.28 178.7 L234.6 178.7 L235.93 178.7 L237.25 178.7 L238.57 178.7 L239.9 178.7 L241.22 178.7 L242.55 178.7 L243.88 178.7 L245.2 178.7 L246.53 178.7 L247.85 178.7 L249.18 178.7 L250.5 178.7 L251.83 178.7 L253.15 178.7" class="cv"/>
<text class="pc" transform="translate(201.8 142.1) scale(0.9 1)">22%</text>
<path d="M288.6 115.5H388.1V179" class="fr"/>
<path d="M288.6 179H388.1" class="xa"/>
<path d="M288.6 115V179.5" class="ya"/>
<path d="M284.2 179.5H288.6M286.2 176.5H288.6M286.2 174.5H288.6M286.2 171.5H288.6M286.2 169.5H288.6M284.2 166.5H288.6M286.2 164.5H288.6M286.2 161.5H288.6M286.2 159.5H288.6M286.2 157.5H288.6M284.2 154.5H288.6M286.2 152.5H288.6M286.2 149.5H288.6M286.2 147.5H288.6M286.2 144.5H288.6M284.2 142.5H288.6M286.2 139.5H288.6M286.2 137.5H288.6M286.2 135.5H288.6M286.2 132.5H288.6M284.2 130.5H288.6M286.2 127.5H288.6M286.2 125.5H288.6M286.2 122.5H288.6M286.2 120.5H288.6M284.2 118.5H288.6M286.2 115.5H288.6M284.2 115.5H288.6" class="tk"/>
<path d="M288.5 179V181.6M296.5 179V180.8M300.5 179V180.8M303.5 179V180.8M305.5 179V180.8M307.5 179V180.8M309.5 179V180.8M311.5 179V180.8M312.5 179V180.8M313.5 179V181.6M320.5 179V180.8M325.5 179V180.8M328.5 179V180.8M330.5 179V180.8M332.5 179V180.8M334.5 179V180.8M335.5 179V180.8M337.5 179V180.8M338.5 179V181.6M345.5 179V180.8M350.5 179V180.8M353.5 179V180.8M355.5 179V180.8M357.5 179V180.8M359.5 179V180.8M360.5 179V180.8M362.5 179V180.8M363.5 179V181.6M370.5 179V180.8M375.5 179V180.8M378.5 179V180.8M380.5 179V180.8M382.5 179V180.8M384.5 179V180.8M385.5 179V180.8M386.5 179V180.8M388.1 179V181.6" class="tk"/>
<text class="yl" transform="translate(281.2 116.4) rotate(-90)" text-anchor="middle">200</text>
<text class="yl" transform="translate(281.2 179) rotate(-90)" text-anchor="middle">0</text>
<text class="yl" transform="translate(273.1 149.45) rotate(-90)" text-anchor="middle" style="letter-spacing:0.3px">Counts</text>
<text class="xl" transform="translate(283.7 191.3) scale(0.8 1)">10</text><text class="xl" transform="translate(291 187.3) scale(0.8 1)">0</text>
<text class="xl" transform="translate(308.58 191.3) scale(0.8 1)">10</text><text class="xl" transform="translate(315.88 187.3) scale(0.8 1)">1</text>
<text class="xl" transform="translate(333.45 191.3) scale(0.8 1)">10</text><text class="xl" transform="translate(340.75 187.3) scale(0.8 1)">2</text>
<text class="xl" transform="translate(358.33 191.3) scale(0.8 1)">10</text><text class="xl" transform="translate(365.62 187.3) scale(0.8 1)">3</text>
<text class="xl" transform="translate(383.2 191.3) scale(0.8 1)">10</text><text class="xl" transform="translate(390.5 187.3) scale(0.8 1)">4</text>
<text class="xt" x="336.85" y="198.7" text-anchor="middle">RHOD. Cyt-C</text>
<path d="M289.3 179 L289.3 161 L289.59 162.69 L289.28 163.97 L289.52 165.01 L289.47 166.26 L289.69 167.26 L289.78 168.6 L289.7 169.73 L289.93 171.66 L290.16 172.79 L289.93 173.96 L290.26 175.65 L290.3 176.7 L292.5 175.7 L293.6 174.24 L294.6 172.5 L294.96 171.6 L295.39 170.08 L295.95 168.59 L296.3 167.2 L296.41 165.75 L297 164.62 L297.18 163.44 L297.36 162.21 L297.8 160.8 L298 159.03 L298.22 158.12 L298.46 156.01 L298.82 154.47 L299.2 153.4 L299.78 152.07 L300.01 150.45 L300.5 149.2 L301.16 147.41 L302 146 L302.27 144.67 L302.32 142.63 L302.84 141.53 L303 139.7 L303.18 138.72 L303.79 137.18 L304.1 135.94 L304.41 134.28 L304.5 133.3 L305.8 132.9 L306.51 133.8 L307.3 135.5 L309 136.5 L310.4 138.6 L310.91 139.5 L311.36 141.42 L311.73 142.85 L311.9 143.9 L312.46 145.21 L312.51 146.68 L312.86 148.17 L313.07 148.74 L313.6 150.3 L313.8 151.53 L314.48 153.21 L314.44 153.82 L314.81 155.37 L315.3 156.6 L315.82 157.96 L316.01 159.03 L316.4 160.94 L316.8 161.9 L317.4 163.04 L317.82 164.74 L318.02 165.91 L318.63 167.19 L318.9 168.3 L319.83 169.98 L321 171.4 L322.56 172.27 L324.2 173.5 L326.3 174.6 L327.93 175.59 L329.5 176.1 L330.97 176.34 L332.21 176.15 L333.5 176.55 L334.8 176.9 L336.09 177.27 L337.41 177.44 L339.02 177.16 L340.43 176.93 L341.78 177.21 L343.2 177.3 L344.3 177.56 L345.98 177.31 L347.34 177.17 L348.5 177.55 L349.82 177.61 L351.15 177.68 L352.48 177.74 L353.8 177.8 L355.13 177.83 L356.46 177.86 L357.8 177.9 L359.13 177.93 L360.46 177.96 L361.79 177.99 L363.12 178.02 L364.46 178.06 L365.79 178.09 L367.12 178.12 L368.45 178.15 L369.78 178.18 L371.12 178.22 L372.45 178.25 L373.78 178.28 L375.11 178.31 L376.44 178.34 L377.78 178.38 L379.11 178.41 L380.44 178.44 L381.77 178.47 L383.1 178.5 L384.44 178.54 L385.77 178.57 L387.1 178.6" class="cv"/>
<text class="pc" transform="translate(336.3 141.8) scale(0.9 1)">35.5%</text>
<path d="M413.5 115.25H512.85V178.55" class="fr"/>
<path d="M413.5 178.55H512.85" class="xa"/>
<path d="M413.5 114.75V179.05" class="ya"/>
<path d="M409.1 178.5H413.5M411.1 176.5H413.5M411.1 173.5H413.5M411.1 171.5H413.5M411.1 168.5H413.5M409.1 166.5H413.5M411.1 163.5H413.5M411.1 161.5H413.5M411.1 159.5H413.5M411.1 156.5H413.5M409.1 154.5H413.5M411.1 151.5H413.5M411.1 149.5H413.5M411.1 146.5H413.5M411.1 144.5H413.5M409.1 141.5H413.5M411.1 139.5H413.5M411.1 137.5H413.5M411.1 134.5H413.5M411.1 132.5H413.5M409.1 129.5H413.5M411.1 127.5H413.5M411.1 124.5H413.5M411.1 122.5H413.5M411.1 119.5H413.5M409.1 117.5H413.5M411.1 115.5H413.5M409.1 115.25H413.5" class="tk"/>
<path d="M413.5 178.55V181.15M420.5 178.55V180.35M425.5 178.55V180.35M428.5 178.55V180.35M430.5 178.55V180.35M432.5 178.55V180.35M434.5 178.55V180.35M435.5 178.55V180.35M437.5 178.55V180.35M438.5 178.55V181.15M445.5 178.55V180.35M450.5 178.55V180.35M453.5 178.55V180.35M455.5 178.55V180.35M457.5 178.55V180.35M459.5 178.55V180.35M460.5 178.55V180.35M462.5 178.55V180.35M463.5 178.55V181.15M470.5 178.55V180.35M475.5 178.55V180.35M478.5 178.55V180.35M480.5 178.55V180.35M482.5 178.55V180.35M484.5 178.55V180.35M485.5 178.55V180.35M486.5 178.55V180.35M488.5 178.55V181.15M495.5 178.55V180.35M499.5 178.55V180.35M502.5 178.55V180.35M505.5 178.55V180.35M507.5 178.55V180.35M509.5 178.55V180.35M510.5 178.55V180.35M511.5 178.55V180.35M512.85 178.55V181.15" class="tk"/>
<text class="yl" transform="translate(406.1 116.15) rotate(-90)" text-anchor="middle">200</text>
<text class="yl" transform="translate(406.1 178.55) rotate(-90)" text-anchor="middle">0</text>
<text class="yl" transform="translate(398 149.1) rotate(-90)" text-anchor="middle" style="letter-spacing:0.3px">Counts</text>
<text class="xl" transform="translate(408.6 190.85) scale(0.8 1)">10</text><text class="xl" transform="translate(415.9 186.85) scale(0.8 1)">0</text>
<text class="xl" transform="translate(433.44 190.85) scale(0.8 1)">10</text><text class="xl" transform="translate(440.74 186.85) scale(0.8 1)">1</text>
<text class="xl" transform="translate(458.28 190.85) scale(0.8 1)">10</text><text class="xl" transform="translate(465.57 186.85) scale(0.8 1)">2</text>
<text class="xl" transform="translate(483.11 190.85) scale(0.8 1)">10</text><text class="xl" transform="translate(490.41 186.85) scale(0.8 1)">3</text>
<text class="xl" transform="translate(507.95 190.85) scale(0.8 1)">10</text><text class="xl" transform="translate(515.25 186.85) scale(0.8 1)">4</text>
<text class="xt" x="461.68" y="198.25" text-anchor="middle">RHOD. Cyt-C</text>
<path d="M414.2 178.55 L414.2 162.8 L414.36 164.37 L414.45 165.27 L414.31 166.66 L414.36 167.94 L414.35 169.38 L414.39 171.27 L414.44 172.39 L414.12 174.26 L414.3 175.2 L416.5 176.3 L418.26 175.77 L419.6 175.2 L420.67 174.37 L421.8 173.1 L422.7 171.49 L423.32 169.86 L423.9 168.8 L424.1 167.71 L424.51 165.84 L424.89 164.64 L425.49 163.55 L425.83 161.63 L426 160.4 L426.18 158.53 L426.85 157.59 L427.3 156.25 L427.33 154.8 L427.8 153 L428.22 151.91 L428.25 150.01 L428.31 148.75 L428.78 147.73 L428.76 146.86 L429.37 145.13 L429.39 144.05 L429.6 142.5 L429.87 140.94 L430.09 139.63 L430.19 138.66 L430.41 137.47 L430.81 135.85 L430.73 134.33 L431.06 133.29 L431.3 131.9 L431.47 130.84 L431.67 128.98 L432.07 127.66 L432.55 126.25 L432.94 124.48 L433 123.5 L433.61 122.12 L433.97 120.4 L434.4 118.8 L434.85 120.29 L435.31 121.68 L435.9 123.5 L436.11 124.73 L436.6 126.7 L436.53 127.88 L437.05 128.95 L437.28 130.76 L437.6 132 L437.99 133.43 L437.97 134.42 L438.16 136.17 L438.4 137.45 L438.65 138.13 L439 139.49 L439.1 141.5 L439.3 142.5 L439.39 144.2 L439.58 145.14 L440.09 146.12 L440.35 147.47 L440.46 149.27 L440.77 150.15 L440.8 151.9 L440.87 153.51 L441.14 154.31 L441.36 155.95 L441.8 157.57 L441.94 158.83 L442.3 160 L442.7 161.44 L443.1 162.73 L443.72 164.34 L443.91 165.5 L444.4 166.5 L444.92 167.35 L445.96 168.42 L446.59 169.68 L447.1 171 L448.22 171.59 L449.15 172.44 L450.3 173.5 L451.75 174.29 L452.98 175.03 L454.5 175.2 L455.9 175.27 L457.92 175.49 L459.29 176.08 L460.9 176.3 L462.34 176.23 L463.4 176.62 L464.73 176.12 L466.3 176.89 L467.41 176.43 L468.93 176.58 L470.06 177.05 L471.5 176.9 L472.69 176.8 L474.15 177.4 L475.44 177.05 L476.75 177.1 L478.06 177.15 L479.38 177.2 L480.69 177.25 L482 177.3 L483.36 177.34 L484.71 177.38 L486.07 177.42 L487.43 177.45 L488.78 177.49 L490.14 177.53 L491.5 177.57 L492.85 177.61 L494.21 177.65 L495.57 177.69 L496.93 177.73 L498.28 177.76 L499.64 177.8 L501 177.84 L502.35 177.88 L503.71 177.92 L505.07 177.96 L506.42 178 L507.78 178.03 L509.14 178.07 L510.49 178.11 L511.85 178.15" class="cv"/>
<text class="pc" transform="translate(465.1 136.2) scale(0.9 1)">47%</text>
<path d="M22.5 219.45H127.4V283" class="fr"/>
<path d="M22.5 283H127.4" class="xa"/>
<path d="M22.5 218.95V283.5" class="ya"/>
<path d="M18.1 283.5H22.5M20.1 280.5H22.5M20.1 278.5H22.5M20.1 275.5H22.5M20.1 273.5H22.5M18.1 270.5H22.5M20.1 268.5H22.5M20.1 265.5H22.5M20.1 263.5H22.5M20.1 261.5H22.5M18.1 258.5H22.5M20.1 256.5H22.5M20.1 253.5H22.5M20.1 251.5H22.5M20.1 248.5H22.5M18.1 246.5H22.5M20.1 243.5H22.5M20.1 241.5H22.5M20.1 239.5H22.5M20.1 236.5H22.5M18.1 234.5H22.5M20.1 231.5H22.5M20.1 229.5H22.5M20.1 226.5H22.5M20.1 224.5H22.5M18.1 222.5H22.5M20.1 219.5H22.5M18.1 219.45H22.5" class="tk"/>
<path d="M22.5 283V285.6M30.5 283V284.8M35.5 283V284.8M38.5 283V284.8M40.5 283V284.8M42.5 283V284.8M44.5 283V284.8M46.5 283V284.8M47.5 283V284.8M48.5 283V285.6M56.5 283V284.8M61.5 283V284.8M64.5 283V284.8M67.5 283V284.8M69.5 283V284.8M70.5 283V284.8M72.5 283V284.8M73.5 283V284.8M74.5 283V285.6M82.5 283V284.8M87.5 283V284.8M90.5 283V284.8M93.5 283V284.8M95.5 283V284.8M97.5 283V284.8M98.5 283V284.8M99.5 283V284.8M101.5 283V285.6M109.5 283V284.8M113.5 283V284.8M116.5 283V284.8M119.5 283V284.8M121.5 283V284.8M123.5 283V284.8M124.5 283V284.8M126.5 283V284.8M127.4 283V285.6" class="tk"/>
<text class="yl" transform="translate(15.1 220.35) rotate(-90)" text-anchor="middle">200</text>
<text class="yl" transform="translate(15.1 283) rotate(-90)" text-anchor="middle">0</text>
<text class="yl" transform="translate(7 253.42) rotate(-90)" text-anchor="middle" style="letter-spacing:0.3px">Counts</text>
<text class="xl" transform="translate(17.6 295.3) scale(0.8 1)">10</text><text class="xl" transform="translate(24.9 291.3) scale(0.8 1)">0</text>
<text class="xl" transform="translate(43.83 295.3) scale(0.8 1)">10</text><text class="xl" transform="translate(51.12 291.3) scale(0.8 1)">1</text>
<text class="xl" transform="translate(70.05 295.3) scale(0.8 1)">10</text><text class="xl" transform="translate(77.35 291.3) scale(0.8 1)">2</text>
<text class="xl" transform="translate(96.28 295.3) scale(0.8 1)">10</text><text class="xl" transform="translate(103.58 291.3) scale(0.8 1)">3</text>
<text class="xl" transform="translate(122.5 295.3) scale(0.8 1)">10</text><text class="xl" transform="translate(129.8 291.3) scale(0.8 1)">4</text>
<text class="xt" x="73.45" y="302.7" text-anchor="middle">CAS-9</text>
<path d="M23.2 283 L23.2 246.6 L23.06 247.48 L23.35 249.15 L23.13 250.25 L23.45 251.65 L23.47 252.9 L23.24 254.69 L23.41 255.9 L23.69 257.11 L23.28 258.15 L23.49 260.23 L23.49 260.89 L23.8 262.36 L23.51 263.55 L23.69 265.21 L23.85 266.87 L23.6 267.65 L23.99 269.41 L23.91 270.01 L23.9 272.08 L24 272.82 L23.9 274.4 L25.4 272.3 L25.96 271.11 L26.67 269.63 L27.5 268.1 L27.8 266.36 L28.2 265.3 L28.78 264.26 L29 262.8 L29.47 261.94 L29.65 260.68 L29.63 258.79 L30.06 257.79 L30.3 256.4 L30.49 254.98 L31.24 252.97 L31.51 251.77 L31.8 250.1 L32.1 248.41 L32.57 247.82 L32.71 246.57 L33.2 244.8 L33.76 243.43 L34.18 242.1 L34.3 240.88 L34.9 239.5 L36.6 238 L38.1 238 L39.2 238.9 L39.67 240.01 L39.56 241.51 L40.05 243.18 L40.2 244.8 L40.49 246.4 L40.93 247.36 L41.04 248.44 L41.46 250.02 L41.7 251.2 L41.87 252.04 L42.48 253.39 L42.93 255.15 L42.95 256.48 L43.4 257.5 L43.99 259.31 L43.93 260.51 L44.43 262.11 L44.9 263.8 L45.04 264.79 L45.74 266.02 L45.97 267.23 L46.12 268.66 L46.6 270.2 L47.21 271.89 L47.98 272.72 L48.7 274.4 L49.76 275.63 L50.8 276.5 L52.9 275.5 L55 277 L56.56 277.62 L58.2 277.6 L59.9 277.32 L61.4 277 L63.5 277.6 L65.2 278.12 L66.7 278.7 L68.09 279.47 L69.8 280.3 L71.36 280.33 L72.87 281.25 L74.1 281.4 L75.4 281.5 L76.7 281.6 L78 281.7 L79.3 281.8 L80.9 281.85 L82.5 281.9 L84.1 281.95 L85.7 282 L87.1 282.1 L88.5 282.2 L89.9 282.3 L91.2 282.31 L92.51 282.32 L93.81 282.33 L95.11 282.34 L96.42 282.35 L97.72 282.36 L99.03 282.38 L100.33 282.39 L101.63 282.4 L102.94 282.41 L104.24 282.42 L105.54 282.43 L106.85 282.44 L108.15 282.45 L109.45 282.46 L110.76 282.47 L112.06 282.48 L113.36 282.49 L114.67 282.5 L115.97 282.51 L117.28 282.53 L118.58 282.54 L119.88 282.55 L121.19 282.56 L122.49 282.57 L123.79 282.58 L125.1 282.59 L126.4 282.6" class="cv"/>
<text class="pc" transform="translate(63.5 240.6) scale(0.9 1)">10%</text>
<path d="M155.15 219.15H254.5V282.6" class="fr"/>
<path d="M155.15 282.6H254.5" class="xa"/>
<path d="M155.15 218.65V283.1" class="ya"/>
<path d="M150.75 282.5H155.15M152.75 280.5H155.15M152.75 277.5H155.15M152.75 275.5H155.15M152.75 272.5H155.15M150.75 270.5H155.15M152.75 267.5H155.15M152.75 265.5H155.15M152.75 263.5H155.15M152.75 260.5H155.15M150.75 258.5H155.15M152.75 255.5H155.15M152.75 253.5H155.15M152.75 250.5H155.15M152.75 248.5H155.15M150.75 246.5H155.15M152.75 243.5H155.15M152.75 241.5H155.15M152.75 238.5H155.15M152.75 236.5H155.15M150.75 233.5H155.15M152.75 231.5H155.15M152.75 228.5H155.15M152.75 226.5H155.15M152.75 224.5H155.15M150.75 221.5H155.15M152.75 219.5H155.15M150.75 219.15H155.15" class="tk"/>
<path d="M155.5 282.6V285.2M162.5 282.6V284.4M167.5 282.6V284.4M170.5 282.6V284.4M172.5 282.6V284.4M174.5 282.6V284.4M176.5 282.6V284.4M177.5 282.6V284.4M178.5 282.6V284.4M179.5 282.6V285.2M187.5 282.6V284.4M191.5 282.6V284.4M194.5 282.6V284.4M197.5 282.6V284.4M199.5 282.6V284.4M200.5 282.6V284.4M202.5 282.6V284.4M203.5 282.6V284.4M204.5 282.6V285.2M212.5 282.6V284.4M216.5 282.6V284.4M219.5 282.6V284.4M222.5 282.6V284.4M224.5 282.6V284.4M225.5 282.6V284.4M227.5 282.6V284.4M228.5 282.6V284.4M229.5 282.6V285.2M237.5 282.6V284.4M241.5 282.6V284.4M244.5 282.6V284.4M247.5 282.6V284.4M248.5 282.6V284.4M250.5 282.6V284.4M252.5 282.6V284.4M253.5 282.6V284.4M254.5 282.6V285.2" class="tk"/>
<text class="yl" transform="translate(147.75 220.05) rotate(-90)" text-anchor="middle">200</text>
<text class="yl" transform="translate(147.75 282.6) rotate(-90)" text-anchor="middle">0</text>
<text class="yl" transform="translate(139.65 253.07) rotate(-90)" text-anchor="middle" style="letter-spacing:0.3px">Counts</text>
<text class="xl" transform="translate(150.25 294.9) scale(0.8 1)">10</text><text class="xl" transform="translate(157.55 290.9) scale(0.8 1)">0</text>
<text class="xl" transform="translate(175.09 294.9) scale(0.8 1)">10</text><text class="xl" transform="translate(182.39 290.9) scale(0.8 1)">1</text>
<text class="xl" transform="translate(199.92 294.9) scale(0.8 1)">10</text><text class="xl" transform="translate(207.22 290.9) scale(0.8 1)">2</text>
<text class="xl" transform="translate(224.76 294.9) scale(0.8 1)">10</text><text class="xl" transform="translate(232.06 290.9) scale(0.8 1)">3</text>
<text class="xl" transform="translate(249.6 294.9) scale(0.8 1)">10</text><text class="xl" transform="translate(256.9 290.9) scale(0.8 1)">4</text>
<text class="xt" x="203.32" y="302.3" text-anchor="middle">CAS-9</text>
<path d="M155.85 282.6 L155.85 243 L155.75 243.95 L156.08 245.49 L156.02 247 L155.95 247.97 L155.99 249.98 L156.17 251.4 L155.8 252.22 L155.88 253.9 L156.18 254.56 L156.25 256.64 L155.99 258.07 L155.98 258.62 L156 260.76 L155.98 261.36 L156.02 262.59 L156.1 264.2 L156.47 265.5 L156.3 267 L156.87 265.38 L157.18 264.56 L157.7 263.09 L158 261.7 L158.38 260.38 L158.88 258.75 L159.5 257.5 L160.22 256.01 L160.31 254.63 L161 253.3 L162.3 251.2 L163.3 250.1 L163.99 251.68 L164.4 253.3 L165.9 255.4 L167.3 257.5 L168.24 259.05 L169 260.7 L169.9 261.88 L171.2 263.8 L172.8 264.9 L174.3 266 L175.15 267.2 L176.4 268.1 L178.6 269.1 L180.7 270.2 L182.8 270.6 L184.9 270.2 L187 270.2 L189.1 269.1 L191.3 269.1 L193.4 270.2 L194.4 271.07 L195.5 272.3 L196.34 273.27 L197.6 274.8 L198.87 275.49 L199.94 277.24 L200.8 278.2 L202.55 279.04 L203.9 279.9 L205.55 280.68 L207.1 280.8 L208.5 280.96 L209.84 280.82 L211.3 281.2 L212.9 281.3 L214.5 281.4 L216.1 281.5 L217.7 281.6 L219.12 281.63 L220.53 281.67 L221.95 281.7 L223.37 281.73 L224.78 281.77 L226.2 281.8 L227.5 281.82 L228.8 281.84 L230.1 281.86 L231.4 281.88 L232.7 281.9 L234 281.91 L235.3 281.93 L236.6 281.95 L237.9 281.97 L239.2 281.99 L240.5 282.01 L241.8 282.03 L243.1 282.05 L244.4 282.07 L245.7 282.09 L247 282.1 L248.3 282.12 L249.6 282.14 L250.9 282.16 L252.2 282.18 L253.5 282.2" class="cv"/>
<text class="pc" transform="translate(197.6 235.3) scale(0.9 1)">28%</text>
<path d="M284.5 219H383.9V282.45" class="fr"/>
<path d="M284.5 282.45H383.9" class="xa"/>
<path d="M284.5 218.5V282.95" class="ya"/>
<path d="M280.1 282.5H284.5M282.1 280.5H284.5M282.1 277.5H284.5M282.1 275.5H284.5M282.1 272.5H284.5M280.1 270.5H284.5M282.1 267.5H284.5M282.1 265.5H284.5M282.1 262.5H284.5M282.1 260.5H284.5M280.1 258.5H284.5M282.1 255.5H284.5M282.1 253.5H284.5M282.1 250.5H284.5M282.1 248.5H284.5M280.1 245.5H284.5M282.1 243.5H284.5M282.1 240.5H284.5M282.1 238.5H284.5M282.1 236.5H284.5M280.1 233.5H284.5M282.1 231.5H284.5M282.1 228.5H284.5M282.1 226.5H284.5M282.1 223.5H284.5M280.1 221.5H284.5M282.1 219.5H284.5M280.1 219H284.5" class="tk"/>
<path d="M284.5 282.45V285.05M291.5 282.45V284.25M296.5 282.45V284.25M299.5 282.45V284.25M301.5 282.45V284.25M303.5 282.45V284.25M305.5 282.45V284.25M306.5 282.45V284.25M308.5 282.45V284.25M309.5 282.45V285.05M316.5 282.45V284.25M321.5 282.45V284.25M324.5 282.45V284.25M326.5 282.45V284.25M328.5 282.45V284.25M330.5 282.45V284.25M331.5 282.45V284.25M333.5 282.45V284.25M334.5 282.45V285.05M341.5 282.45V284.25M346.5 282.45V284.25M349.5 282.45V284.25M351.5 282.45V284.25M353.5 282.45V284.25M355.5 282.45V284.25M356.5 282.45V284.25M357.5 282.45V284.25M359.5 282.45V285.05M366.5 282.45V284.25M370.5 282.45V284.25M374.5 282.45V284.25M376.5 282.45V284.25M378.5 282.45V284.25M380.5 282.45V284.25M381.5 282.45V284.25M382.5 282.45V284.25M383.9 282.45V285.05" class="tk"/>
<text class="yl" transform="translate(277.1 219.9) rotate(-90)" text-anchor="middle">200</text>
<text class="yl" transform="translate(277.1 282.45) rotate(-90)" text-anchor="middle">0</text>
<text class="yl" transform="translate(269 252.92) rotate(-90)" text-anchor="middle" style="letter-spacing:0.3px">Counts</text>
<text class="xl" transform="translate(279.6 294.75) scale(0.8 1)">10</text><text class="xl" transform="translate(286.9 290.75) scale(0.8 1)">0</text>
<text class="xl" transform="translate(304.45 294.75) scale(0.8 1)">10</text><text class="xl" transform="translate(311.75 290.75) scale(0.8 1)">1</text>
<text class="xl" transform="translate(329.3 294.75) scale(0.8 1)">10</text><text class="xl" transform="translate(336.6 290.75) scale(0.8 1)">2</text>
<text class="xl" transform="translate(354.15 294.75) scale(0.8 1)">10</text><text class="xl" transform="translate(361.45 290.75) scale(0.8 1)">3</text>
<text class="xl" transform="translate(379 294.75) scale(0.8 1)">10</text><text class="xl" transform="translate(386.3 290.75) scale(0.8 1)">4</text>
<text class="xt" x="332.7" y="302.15" text-anchor="middle">CAS-9</text>
<path d="M285.2 282.45 L285.2 246.6 L285.29 247.99 L285.16 249.53 L285.46 250.71 L285.17 252.26 L285.4 253.36 L285.58 254.55 L285.38 255.89 L285.49 257.59 L285.37 258.34 L285.28 259.83 L285.62 261.26 L285.7 262.42 L285.6 264.19 L285.43 265.3 L285.84 266.06 L285.53 267.59 L285.8 269.46 L285.63 270.09 L285.64 271.52 L285.78 272.63 L285.8 274.4 L286.25 272.82 L286.62 271.32 L287.3 270.2 L288.8 268.1 L289.82 266.38 L290.5 265.5 L292.2 264.3 L292.93 265.87 L293.6 267 L294.19 268.26 L295.1 270.2 L295.87 270.91 L296.8 272.3 L298.5 271.3 L299.15 269.8 L300 269.1 L300.61 270.43 L301.5 272.3 L303.2 271.9 L304.8 270.2 L306.3 268.1 L307.8 266 L309.5 266.4 L310.33 265.24 L311.2 263.8 L312.7 265.5 L314.2 267 L314.94 265.93 L315.8 264.9 L317.5 263.8 L319 264.3 L320.7 262.8 L322.2 260.7 L323.7 258.6 L324.9 259.6 L326.4 257.9 L328.1 259.6 L329.6 261.7 L330.48 263.34 L331.1 264.9 L331.33 266.05 L331.9 267.53 L332.2 269.13 L332.8 270.2 L333.28 271.94 L334.17 273.04 L334.9 274.4 L336.33 275.53 L337.4 277 L338.65 278.03 L340.2 278.7 L341.8 279.3 L343.3 279.9 L344.55 279.78 L346.27 280.59 L347.6 280.8 L349.18 280.95 L350.75 281.1 L352.32 281.25 L353.9 281.4 L355.5 281.45 L357.1 281.5 L358.7 281.55 L360.3 281.6 L361.63 281.63 L362.96 281.65 L364.29 281.68 L365.62 281.71 L366.95 281.73 L368.28 281.76 L369.61 281.79 L370.94 281.81 L372.26 281.84 L373.59 281.86 L374.92 281.89 L376.25 281.92 L377.58 281.94 L378.91 281.97 L380.24 282 L381.57 282.02 L382.9 282.05" class="cv"/>
<text class="pc" transform="translate(331.8 234.8) scale(0.9 1)">64%</text>
<path d="M414 218.7H513.4V282.2" class="fr"/>
<path d="M414 282.2H513.4" class="xa"/>
<path d="M414 218.2V282.7" class="ya"/>
<path d="M409.6 282.5H414M411.6 279.5H414M411.6 277.5H414M411.6 274.5H414M411.6 272.5H414M409.6 270.5H414M411.6 267.5H414M411.6 265.5H414M411.6 262.5H414M411.6 260.5H414M409.6 257.5H414M411.6 255.5H414M411.6 252.5H414M411.6 250.5H414M411.6 248.5H414M409.6 245.5H414M411.6 243.5H414M411.6 240.5H414M411.6 238.5H414M411.6 235.5H414M409.6 233.5H414M411.6 230.5H414M411.6 228.5H414M411.6 226.5H414M411.6 223.5H414M409.6 221.5H414M411.6 218.5H414M409.6 218.7H414" class="tk"/>
<path d="M414.5 282.2V284.8M421.5 282.2V284M425.5 282.2V284M428.5 282.2V284M431.5 282.2V284M433.5 282.2V284M435.5 282.2V284M436.5 282.2V284M437.5 282.2V284M438.5 282.2V284.8M446.5 282.2V284M450.5 282.2V284M453.5 282.2V284M456.5 282.2V284M458.5 282.2V284M459.5 282.2V284M461.5 282.2V284M462.5 282.2V284M463.5 282.2V284.8M471.5 282.2V284M475.5 282.2V284M478.5 282.2V284M481.5 282.2V284M483.5 282.2V284M484.5 282.2V284M486.5 282.2V284M487.5 282.2V284M488.5 282.2V284.8M496.5 282.2V284M500.5 282.2V284M503.5 282.2V284M505.5 282.2V284M507.5 282.2V284M509.5 282.2V284M510.5 282.2V284M512.5 282.2V284M513.4 282.2V284.8" class="tk"/>
<text class="yl" transform="translate(406.6 219.6) rotate(-90)" text-anchor="middle">200</text>
<text class="yl" transform="translate(406.6 282.2) rotate(-90)" text-anchor="middle">0</text>
<text class="yl" transform="translate(398.5 252.65) rotate(-90)" text-anchor="middle" style="letter-spacing:0.3px">Counts</text>
<text class="xl" transform="translate(409.1 294.5) scale(0.8 1)">10</text><text class="xl" transform="translate(416.4 290.5) scale(0.8 1)">0</text>
<text class="xl" transform="translate(433.95 294.5) scale(0.8 1)">10</text><text class="xl" transform="translate(441.25 290.5) scale(0.8 1)">1</text>
<text class="xl" transform="translate(458.8 294.5) scale(0.8 1)">10</text><text class="xl" transform="translate(466.1 290.5) scale(0.8 1)">2</text>
<text class="xl" transform="translate(483.65 294.5) scale(0.8 1)">10</text><text class="xl" transform="translate(490.95 290.5) scale(0.8 1)">3</text>
<text class="xl" transform="translate(508.5 294.5) scale(0.8 1)">10</text><text class="xl" transform="translate(515.8 290.5) scale(0.8 1)">4</text>
<text class="xt" x="462.2" y="301.9" text-anchor="middle">CAS-9</text>
<path d="M414.7 282.2 L414.7 249.4 L414.77 250.77 L414.94 252.39 L414.72 253.77 L414.78 255.18 L414.66 255.94 L414.72 257.47 L414.95 258.6 L415.04 260.39 L414.76 261.11 L415.01 262.61 L415.15 264.48 L415.08 265.9 L414.98 266.98 L414.97 268.03 L415.18 269.57 L415.11 270.95 L415.07 272.16 L415.25 273.86 L415.38 275.14 L415.1 276.06 L415.3 277.6 L417.4 276.1 L418.63 275.05 L419.5 274.4 L421.6 273.4 L423.8 273.8 L425.9 272.9 L428 273.4 L430.1 271.9 L432.2 271.3 L434.3 269.8 L435.31 269.01 L436.4 267.7 L437.43 266.85 L438.6 265.5 L439.47 264.78 L440.7 263.4 L442.8 262.8 L444.9 262.8 L447 262.8 L448.5 261.7 L449.57 260.87 L450.2 259.6 L451.9 257.9 L453.4 257.1 L454.8 257.5 L456.5 258.6 L458.2 260 L459.7 261.7 L460.43 262.93 L461.2 264.3 L461.95 265.32 L462.9 267 L463.66 268.16 L464.6 269.8 L465.56 270.86 L466.7 272.7 L467.54 273.48 L468.24 274.88 L469.2 276.1 L470.41 277.8 L471.8 278.7 L473.33 279.33 L474.5 279.9 L476.31 280.58 L477.7 280.8 L479.1 280.93 L480.5 281.07 L481.9 281.2 L483.22 281.25 L484.55 281.3 L485.88 281.35 L487.2 281.4 L488.53 281.42 L489.85 281.44 L491.18 281.46 L492.51 281.48 L493.83 281.51 L495.16 281.53 L496.48 281.55 L497.81 281.57 L499.14 281.59 L500.46 281.61 L501.79 281.63 L503.12 281.65 L504.44 281.67 L505.77 281.69 L507.09 281.72 L508.42 281.74 L509.75 281.76 L511.07 281.78 L512.4 281.8" class="cv"/>
<text class="pc" transform="translate(475.6 240.2) scale(0.9 1)">75%</text>
<text class="bl" x="54.8" y="320.9"><tspan class="bn">0</tspan>μg/mL</text>
<text class="bl" x="179.6" y="320.9"><tspan class="bn">2.5</tspan>μg/mL</text>
<text class="bl" x="313.4" y="320.9"><tspan class="bn">5</tspan>μg/mL</text>
<text class="bl" x="432.5" y="320.9"><tspan class="bn">10</tspan>μg/mL</text>
</svg>
</body></html>
